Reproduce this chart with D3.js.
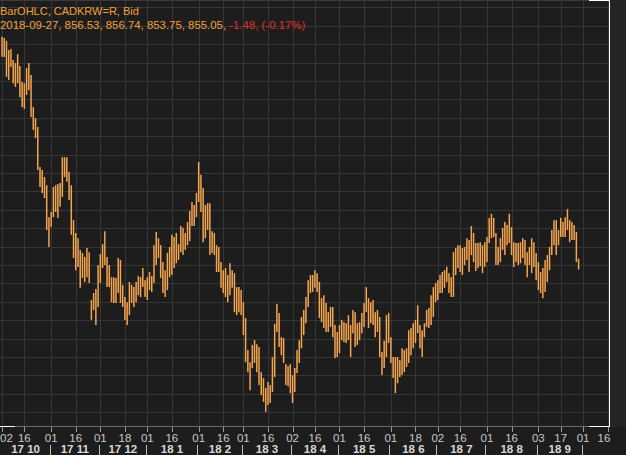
<!DOCTYPE html>
<html><head><meta charset="utf-8">
<script src="https://cdn.jsdelivr.net/npm/d3@7"></script>
<style>html,body{margin:0;padding:0;background:#1d1d1d;overflow:hidden}</style>
</head><body>
<svg id="c" width="626" height="455"></svg>
<script>
// ---- data ----
const startDate = "2017-10-02";
const highs = [917.0,916.7,915.9,913.4,913.7,910.7,909.9,912.3,909.1,904.7,904.4,908.5,909.9,906.6,897.9,894.9,892.5,881.6,880.8,878.9,
876.7,868.0,869.4,876.2,876.7,877.0,877.3,884.3,884.3,884.3,880.3,876.7,867.2,863.7,862.3,859.1,858.3,857.2,859.6,858.5,
845.5,847.4,848.5,855.0,858.0,860.7,864.2,857.2,855.0,851.7,851.7,851.5,856.9,856.4,849.6,846.3,844.9,850.4,849.6,849.0,
850.4,852.0,851.7,854.2,850.9,851.7,853.1,852.0,860.4,864.0,862.3,860.4,855.8,853.6,858.3,859.9,863.2,862.6,863.7,860.7,
865.6,865.1,863.7,866.7,869.7,872.1,871.3,874.6,883.0,879.5,875.9,871.3,871.8,871.8,864.2,863.7,860.4,859.9,855.8,853.6,
854.2,852.3,855.5,853.6,852.8,849.0,849.0,848.2,844.9,840.6,831.9,828.6,833.3,834.6,833.5,832.7,825.9,824.3,821.6,823.2,
822.4,830.0,839.0,844.4,842.0,835.4,835.2,828.1,827.6,828.1,825.1,827.0,831.9,834.6,840.9,842.8,846.3,850.9,852.3,852.3,
853.6,852.8,850.4,846.0,846.8,844.7,842.2,843.6,843.6,838.7,836.8,838.7,840.1,839.5,839.2,841.4,838.7,842.8,842.2,839.2,
839.5,842.0,844.7,849.0,846.0,844.9,845.5,842.2,842.8,840.9,831.4,834.4,841.4,842.0,835.4,830.0,830.0,830.0,829.2,832.4,
831.9,832.4,837.3,837.9,839.2,840.1,844.1,838.7,837.3,839.2,842.8,843.3,846.8,849.0,850.1,850.9,852.3,853.1,853.6,854.5,
852.8,851.7,858.5,859.6,860.4,860.4,859.6,859.9,862.3,861.8,865.6,863.7,861.0,861.0,861.2,860.4,861.2,862.6,867.8,868.9,
867.8,863.7,859.9,862.3,865.1,866.7,865.9,868.9,865.3,861.2,861.0,861.0,861.2,862.3,861.8,858.5,859.9,862.3,861.2,858.3,
855.8,853.1,854.2,856.4,857.7,859.9,864.5,867.2,867.2,864.5,867.8,866.7,868.0,870.2,867.2,866.7,865.9,864.0,856.74];
const lows = [911.6,911.5,906.1,905.3,908.8,904.4,903.4,904.4,900.6,897.9,897.4,901.2,902.5,895.2,891.7,889.5,880.8,876.2,874.6,873.2,
864.5,859.9,865.3,868.0,869.4,867.8,870.8,873.5,878.9,877.6,872.7,863.2,856.9,853.6,854.5,848.8,851.5,850.4,851.7,850.1,
840.1,842.8,838.7,843.6,850.1,854.2,855.0,849.0,849.0,844.9,844.7,844.7,847.4,844.7,843.6,840.1,838.7,841.4,844.7,843.6,
844.9,846.8,846.3,849.0,846.3,845.5,848.2,847.7,850.1,855.0,856.9,851.5,847.4,846.3,848.2,851.7,852.3,854.2,855.5,856.4,
858.5,857.7,859.1,860.4,861.5,865.6,865.6,868.0,872.1,869.4,861.2,862.3,864.5,857.7,858.3,857.7,853.1,853.1,848.8,847.4,
846.3,844.9,846.8,848.8,842.2,841.4,842.2,841.4,836.0,828.6,825.9,821.0,827.0,828.4,825.9,822.4,819.7,817.8,815.1,817.0,
817.5,820.5,824.6,836.8,832.7,830.5,828.4,822.4,822.1,820.2,817.5,820.5,825.7,828.4,832.4,836.0,839.2,843.6,847.4,847.7,
848.8,847.7,840.6,839.5,837.9,836.8,836.8,838.2,835.4,829.7,830.0,831.1,834.6,834.1,833.8,834.6,830.0,836.5,832.7,833.3,
834.6,836.5,838.2,842.2,837.9,839.2,838.7,835.4,836.8,830.0,825.1,827.0,830.0,833.8,828.4,824.3,820.2,822.9,824.6,825.1,
825.9,827.3,828.4,830.5,832.4,833.8,836.5,832.4,830.0,835.4,838.2,837.9,838.7,840.9,844.9,845.5,847.4,847.4,848.8,850.4,
847.4,846.3,846.3,852.3,854.2,853.1,852.3,855.0,856.4,853.1,857.7,855.8,853.4,854.2,854.7,852.8,854.5,855.8,861.0,862.3,
862.6,855.0,855.0,855.8,859.1,857.7,860.4,861.0,857.7,854.5,855.8,855.0,855.5,856.9,855.0,851.7,855.0,852.8,854.5,850.9,
848.2,847.4,846.0,847.7,850.4,853.6,857.7,860.4,857.7,860.4,862.6,862.6,862.6,864.5,861.2,861.8,861.8,855.8,853.75];
const tickDates = ["2017-10-02","2017-10-16","2017-11-01","2017-11-16","2017-12-01","2017-12-18","2018-01-01","2018-01-16",
"2018-02-01","2018-02-16","2018-03-01","2018-03-16","2018-04-02","2018-04-16","2018-05-01","2018-05-16","2018-06-01",
"2018-06-18","2018-07-02","2018-07-16","2018-08-01","2018-08-16","2018-09-03","2018-09-17","2018-10-01","2018-10-16"];
const tickLabels = ["02","16","01","16","01","18","01","16","01","16","01","16","02","16","01","16","01","18","02","16","01","16","03","17","01","16"];
const monthStarts = ["2017-10-02","2017-11-01","2017-12-01","2018-01-01","2018-02-01","2018-03-01","2018-04-02","2018-05-01",
"2018-06-01","2018-07-02","2018-08-01","2018-09-03","2018-10-01"];
const monthLabels = ["17 10","17 11","17 12","18 1","18 2","18 3","18 4","18 5","18 6","18 7","18 8","18 9"];
const legendLine1 = "BarOHLC, CADKRW=R, Bid";
const legendLine2 = "2018-09-27, 856.53, 856.74, 853.75, 855.05, ";
const legendChange = "-1.48, (-0.17%)";
const gridPrices = d3.range(815, 926, 5);

// ---- helpers ----
const t0 = Date.UTC(2017, 9, 2);
function wIndex(s){ // weekday index from start
  const p = s.split("-").map(Number);
  const d = Math.round((Date.UTC(p[0], p[1]-1, p[2]) - t0) / 86400000);
  return Math.floor(d/7)*5 + Math.min(d%7, 5);
}

const W = 626, H = 455, plotR = 609, plotB = 427;
const svg = d3.select("#c");
svg.append("rect").attr("width", W).attr("height", H).attr("fill", "#1d1d1d");
svg.append("rect").attr("x", plotR+1).attr("y", 0).attr("width", W-plotR-1).attr("height", plotB).attr("fill", "#252525");

const x = d3.scaleLinear().domain([-0.9, 271.6]).range([0, plotR]);
const y = d3.scaleLinear().domain([811, 927]).range([plotB, 0]);

// grid
svg.append("g").selectAll("line").data(gridPrices).join("line")
  .attr("x1", 0).attr("x2", plotR).attr("y1", d => Math.round(y(d))+0.5).attr("y2", d => Math.round(y(d))+0.5)
  .attr("stroke", "#353535").attr("stroke-width", 1);
svg.append("g").selectAll("line").data(tickDates).join("line")
  .attr("x1", d => Math.round(x(wIndex(d)))+0.5).attr("x2", d => Math.round(x(wIndex(d)))+0.5)
  .attr("y1", 0).attr("y2", plotB).attr("stroke", "#353535").attr("stroke-width", 1);

// frame
svg.append("line").attr("x1",0).attr("x2",plotR).attr("y1",0.5).attr("y2",0.5).attr("stroke","#3a3a3a");
svg.append("line").attr("x1",0).attr("x2",plotR+1).attr("y1",plotB-0.5).attr("y2",plotB-0.5).attr("stroke","#6a6a6a");
svg.append("line").attr("x1",plotR+0.5).attr("x2",plotR+0.5).attr("y1",0).attr("y2",plotB).attr("stroke","#ffffff");
svg.append("line").attr("x1",589).attr("x2",plotR+1).attr("y1",0.5).attr("y2",0.5).attr("stroke","#ffffff");
svg.append("line").attr("x1",589).attr("x2",plotR+1).attr("y1",plotB-0.5).attr("y2",plotB-0.5).attr("stroke","#ffffff");
svg.append("line").attr("x1",0).attr("x2",15).attr("y1",plotB-0.5).attr("y2",plotB-0.5).attr("stroke","#ffffff");

// bars
const bars = highs.map((h, i) => ({i, h, l: lows[i]}));
svg.append("g").selectAll("line").data(bars).join("line")
  .attr("x1", d => x(d.i)).attr("x2", d => x(d.i))
  .attr("y1", d => y(d.h)).attr("y2", d => y(d.l))
  .attr("stroke", "#f4a550").attr("stroke-width", 1.5);

// x axis ticks
const ax = svg.append("g");
ax.selectAll("line").data(tickDates).join("line")
  .attr("x1", d => Math.round(x(wIndex(d)))+0.5).attr("x2", d => Math.round(x(wIndex(d)))+0.5)
  .attr("y1", plotB).attr("y2", plotB+5).attr("stroke", "#9a9a9a");
ax.selectAll("text").data(tickDates).join("text")
  .attr("x", (d, k) => k === 0 ? 0 : Math.min(x(wIndex(d)), 604))
  .attr("y", 442)
  .attr("text-anchor", (d, k) => k === 0 ? "start" : "middle").attr("fill", "#c8c8c8")
  .style("font", "11.5px 'Liberation Sans', Arial, sans-serif")
  .text((d, k) => tickLabels[k]);

// month row
const ms = monthStarts.map(wIndex);
svg.append("g").selectAll("line").data(ms.slice(1)).join("line")
  .attr("x1", d => Math.round(x(d)-1.5)+0.5).attr("x2", d => Math.round(x(d)-1.5)+0.5)
  .attr("y1", 445).attr("y2", H).attr("stroke", "#bcbcbc");
svg.append("g").selectAll("text").data(monthLabels).join("text")
  .attr("x", (d, k) => (x(ms[k]) + x(ms[k+1]))/2 - 1).attr("y", 453)
  .attr("text-anchor", "middle").attr("fill", "#d8d8d8")
  .style("font", "bold 11.5px 'Liberation Sans', Arial, sans-serif")
  .text(d => d);

// legend
const lg = svg.append("g").style("font", "11px 'Liberation Sans', Arial, sans-serif");
lg.append("text").attr("x", 0).attr("y", 15).attr("fill", "#f0a238").text(legendLine1);
const t2 = lg.append("text").attr("x", 0).attr("y", 29).style("font-size", "11.4px");
t2.append("tspan").attr("fill", "#f0a238").text(legendLine2);
t2.append("tspan").attr("fill", "#e0302c").text(legendChange);
</script>
</body></html>
